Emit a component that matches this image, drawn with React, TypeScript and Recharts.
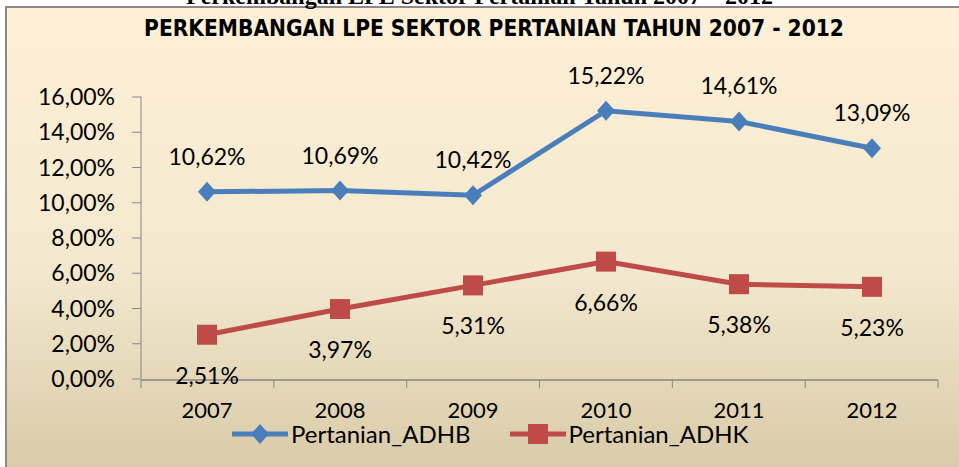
import { LineChart, Line, XAxis, YAxis, LabelList } from 'recharts';

const years = ['2007', '2008', '2009', '2010', '2011', '2012'];
const adhb = [10.62, 10.69, 10.42, 15.22, 14.61, 13.09];
const adhk = [2.51, 3.97, 5.31, 6.66, 5.38, 5.23];
const yTicks = [0, 2, 4, 6, 8, 10, 12, 14, 16];
const bandEdges = [0, 1, 2, 3, 4, 5, 6];

const data = years.map((year, i) => ({ year, edge: i + 0.5, adhb: adhb[i], adhk: adhk[i] }));

const FONT = "Lato, 'Open Sans', sans-serif";
const BLUE = '#4A7EBB';
const RED = '#BE4B48';

const fmt = (v: number) => `${v.toFixed(2).replace('.', ',')}%`;

const Diamond = ({ cx, cy }: any) => (
  <path d={`M${cx},${cy - 10} L${cx + 9},${cy} L${cx},${cy + 10} L${cx - 9},${cy} Z`} fill={BLUE} />
);

const Square = ({ cx, cy }: any) => <rect x={cx - 10} y={cy - 10} width={20} height={20} fill={RED} />;

const NoTick = () => <g />;

const makeLabel = (dy: number) => (props: any) => {
  const { x, y, value } = props;
  return (
    <text x={x} y={y + dy} textAnchor="middle" dominantBaseline="central" fontFamily={FONT} fontSize={23} fill="#000">
      {fmt(value)}
    </text>
  );
};

const LegendItem = ({ color, label, square }: { color: string; label: string; square?: boolean }) => (
  <div style={{ display: 'flex', alignItems: 'center', marginRight: 38 }}>
    <svg width={58} height={22}>
      <line x1={1} y1={11} x2={57} y2={11} stroke={color} strokeWidth={5} />
      {square ? (
        <rect x={19} y={1} width={20} height={20} fill={color} />
      ) : (
        <path d="M29,1 L38,11 L29,21 L20,11 Z" fill={color} />
      )}
    </svg>
    <span style={{ fontFamily: FONT, fontSize: 24, lineHeight: '24px', color: '#000', marginLeft: 2 }}>{label}</span>
  </div>
);

const App = () => {
  return (
    <div style={{ position: 'absolute', left: 0, top: 0, width: 959, height: 467, overflow: 'hidden', background: '#fff' }}>
      <div
        style={{
          position: 'absolute',
          left: 5,
          top: 6,
          width: 970,
          height: 480,
          borderLeft: '2px solid #8a8a8a',
          borderTop: '2px solid #8a8a8a',
          background: 'linear-gradient(to bottom, #FEF0D6 0%, #F3E8CE 55%, #D6C8A4 100%)',
        }}
      />
      <div
        style={{
          position: 'absolute',
          left: 0,
          width: 959,
          top: -17,
          textAlign: 'center',
          fontFamily: "'Liberation Serif', serif",
          fontWeight: 'bold',
          fontSize: 24,
          color: '#000',
        }}
      >
        Perkembangan LPE Sektor Pertanian Tahun 2007 – 2012
      </div>
      <div
        style={{
          position: 'absolute',
          left: 120,
          width: 748,
          top: 15,
          textAlign: 'center',
          fontFamily: "'DejaVu Sans Condensed', 'Liberation Sans Narrow', sans-serif",
          fontWeight: 'bold',
          fontSize: 22.5,
          color: '#000',
          whiteSpace: 'nowrap',
        }}
      >
        PERKEMBANGAN LPE SEKTOR PERTANIAN TAHUN 2007 - 2012
      </div>
      <div style={{ position: 'absolute', left: 0, top: 0 }}>
        <LineChart width={959} height={467} data={data} margin={{ top: 97, right: 21, bottom: 48, left: 0 }}>
          <XAxis
            dataKey="year"
            padding={{ left: 66, right: 66 }}
            axisLine={false}
            tickLine={false}
            tickMargin={17}
            height={1}
            tick={{ fontFamily: FONT, fontSize: 22, fill: '#000' }}
          />
          <XAxis
            xAxisId="edges"
            dataKey="edge"
            type="number"
            domain={[0, 6]}
            ticks={bandEdges}
            interval={0}
            tick={<NoTick />}
            tickLine={{ stroke: '#868686' }}
            tickSize={8}
            height={39}
            stroke="#868686"
            axisLine={{ stroke: '#868686', strokeWidth: 1.5 }}
          />
          <YAxis
            domain={[0, 16]}
            ticks={yTicks}
            width={141}
            tickSize={9}
            tickMargin={17}
            stroke="#868686"
            tickFormatter={(v: number) => fmt(v)}
            tick={{ fontFamily: FONT, fontSize: 23, fill: '#000' }}
          />
          <Line
            dataKey="adhb"
            stroke={BLUE}
            strokeWidth={5}
            dot={<Diamond />}
            activeDot={false}
            isAnimationActive={false}
          >
            <LabelList dataKey="adhb" content={makeLabel(-36)} />
          </Line>
          <Line
            dataKey="adhk"
            stroke={RED}
            strokeWidth={5}
            dot={<Square />}
            activeDot={false}
            isAnimationActive={false}
          >
            <LabelList dataKey="adhk" content={makeLabel(40)} />
          </Line>
        </LineChart>
      </div>
      <div style={{ position: 'absolute', left: 231, top: 422, display: 'flex' }}>
        <LegendItem color={BLUE} label="Pertanian_ADHB" />
        <LegendItem color={RED} label="Pertanian_ADHK" square />
      </div>
    </div>
  );
};

export default App;
